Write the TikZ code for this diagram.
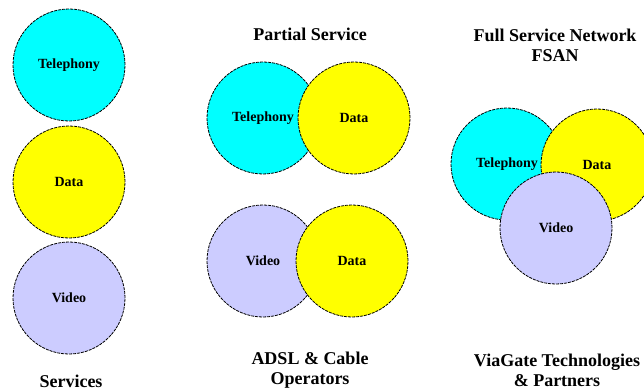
\documentclass[tikz,border=0pt]{standalone}
\usepackage{fontspec}
\setmainfont{Liberation Serif}
\usetikzlibrary{positioning}
\definecolor{telcyan}{RGB}{0,255,255}
\definecolor{datayellow}{RGB}{255,255,0}
\definecolor{videoblue}{RGB}{204,204,255}

\begin{document}
\begin{tikzpicture}[x=1pt, y=-1pt,
    svc/.style={circle, draw=black, line width=0.8pt, dash pattern=on 3pt off 1pt,
        minimum size=112pt, inner sep=0pt, font=\fontsize{14}{14}\selectfont\bfseries},
    title/.style={align=center, font=\fontsize{18}{20}\selectfont\bfseries}]
    \useasboundingbox (0,0) rectangle (644,390);

    % Services column
    \node[svc, fill=telcyan] (tel1) at (69,65) {Telephony};
    \node[svc, fill=datayellow] (data1) at (69,182) {Data};
    \node[svc, fill=videoblue] (vid1) at (69,298) {Video};
    \node[title] (services) at (71,381) {Services};

    % Partial service column
    \node[title] (partial) at (310,34) {Partial Service};
    \node[svc, fill=telcyan] (tel2) at (263,118) {Telephony};
    \node[svc, fill=datayellow] (data2) at (354,118) {Data};
    \node[svc, fill=videoblue] (vid2) at (263,261) {Video};
    \node[svc, fill=datayellow] (data3) at (352,261) {Data};
    \node[title] (adsl) at (310,370) {ADSL \& Cable\\Operators};

    % Full service column
    \node[title] (fsan) at (555,45) {Full Service Network\\FSAN};
    \node[svc, fill=telcyan] (tel3) at (507,164) {Telephony};
    \node[svc, fill=datayellow] (data4) at (597,165) {Data};
    \node[svc, fill=videoblue] (vid3) at (556,228) {Video};
    \node[title] (viagate) at (557,370) {ViaGate Technologies\\\& Partners};
\end{tikzpicture}
\end{document}
